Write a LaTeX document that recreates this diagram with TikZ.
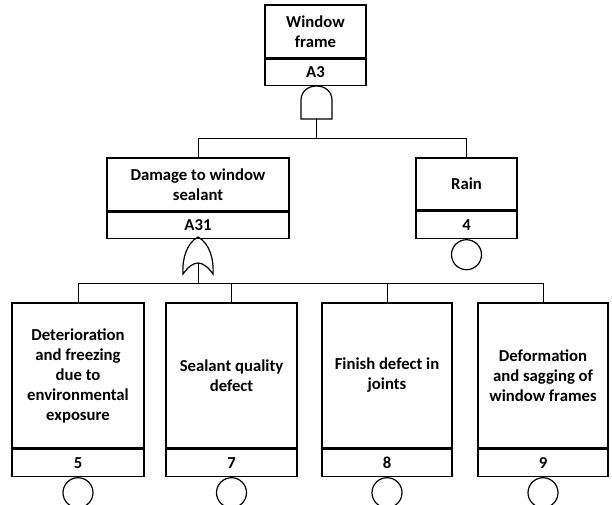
\documentclass[tikz,border=0pt]{standalone}
\usepackage{fontspec}
\setmainfont{Carlito}
\begin{document}
\begin{tikzpicture}[x=1pt,y=-1pt,
 box/.style={draw,line width=1.4pt,inner sep=0pt,align=center,font=\bfseries\fontsize{16.7}{20}\selectfont},
 conn/.style={line width=0.8pt},
 gate/.style={draw,line width=1.2pt},
 evt/.style={draw,circle,line width=1.2pt,minimum size=30pt,inner sep=0pt}]
\useasboundingbox (0,0) rectangle (612,504);

% top event
\node[box,minimum width=101pt,minimum height=53pt] (top) at (315.5,31.5) {Window\\frame};
\node[box,minimum width=101pt,minimum height=26pt,anchor=north] (topid) at (top.south) {A3};

% intermediate
\node[box,minimum width=182pt,minimum height=53pt] (dmg) at (198,184.5) {Damage to window\\sealant};
\node[box,minimum width=182pt,minimum height=26pt,anchor=north] (dmgid) at (dmg.south) {A31};

\node[box,minimum width=101pt,minimum height=52pt] (rain) at (466.5,184) {Rain};
\node[box,minimum width=101pt,minimum height=27pt,anchor=north] (rainid) at (rain.south) {4};
\node[evt,anchor=north] (e4) at (rainid.south) {};

% basic events
\node[box,minimum width=132pt,minimum height=145pt] (b5) at (78,375.5) {Deterioration\\and freezing\\due to\\environmental\\exposure};
\node[box,minimum width=132pt,minimum height=27pt,anchor=north] (b5id) at (b5.south) {5};
\node[evt,anchor=north] (e5) at (b5id.south) {};

\node[box,minimum width=131pt,minimum height=145pt] (b7) at (231.5,375.5) {Sealant quality\\defect};
\node[box,minimum width=131pt,minimum height=27pt,anchor=north] (b7id) at (b7.south) {7};
\node[evt,anchor=north] (e7) at (b7id.south) {};

\node[box,minimum width=130pt,minimum height=145pt] (b8) at (387,375.5) {Finish defect in\\joints};
\node[box,minimum width=130pt,minimum height=27pt,anchor=north] (b8id) at (b8.south) {8};
\node[evt,anchor=north] (e8) at (b8id.south) {};

\node[box,minimum width=130pt,minimum height=145pt] (b9) at (543,375.5) {Deformation\\and sagging of\\window frames};
\node[box,minimum width=130pt,minimum height=27pt,anchor=north] (b9id) at (b9.south) {9};
\node[evt,anchor=north] (e9) at (b9id.south) {};

% AND gate
\draw[gate] (301,119) -- (301,100) .. controls (301,92) and (307.5,86) .. (316.5,86)
  .. controls (325.5,86) and (332,92) .. (332,100) -- (332,119) -- cycle;
\coordinate (andin) at (316.5,119);
\coordinate (bar1) at (316.5,138.5);
\draw[conn] (andin) -- (bar1);
\draw[conn] (dmg.north) -- (dmg.north |- bar1) -- (rain.north |- bar1) -- (rain.north);

% OR gate
\draw[gate] (198,237) .. controls (187,243) and (182,258) .. (183,274)
  .. controls (188,267) and (193,263) .. (198,263)
  .. controls (203,263) and (208,267) .. (213,274)
  .. controls (214,258) and (209,243) .. (198,237) -- cycle;
\coordinate (orin) at (198,263);
\coordinate (bar2) at (198,283);
\draw[conn] (orin) -- (bar2);
\draw[conn] (b5.north) -- (b5.north |- bar2) -- (b9.north |- bar2) -- (b9.north);
\draw[conn] (b7.north) -- (b7.north |- bar2);
\draw[conn] (b8.north) -- (b8.north |- bar2);
\end{tikzpicture}
\end{document}
